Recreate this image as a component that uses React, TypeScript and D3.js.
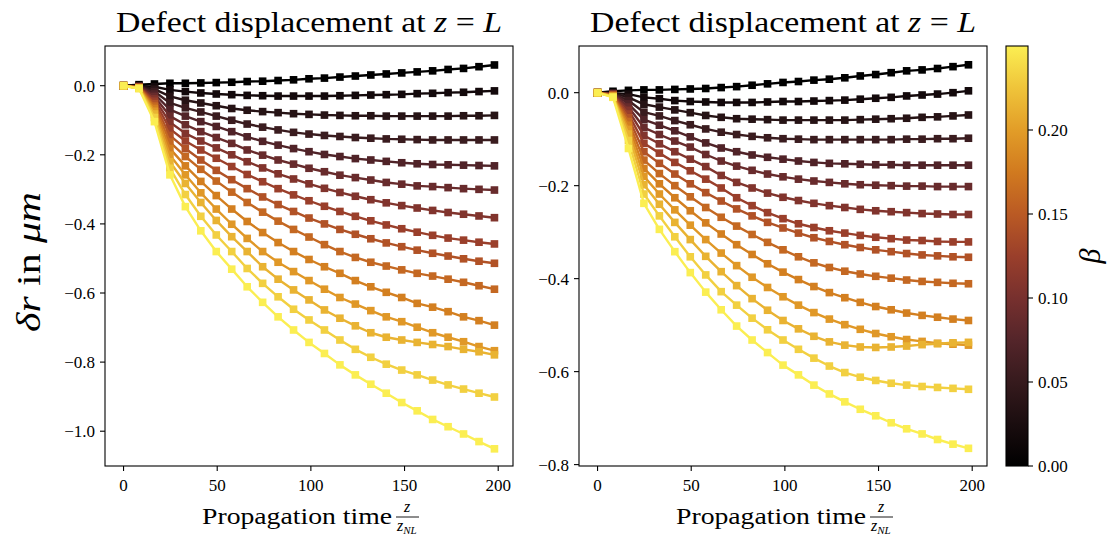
import React from "react";
import * as d3 from "d3";

// ---- data ----
const zSteps = [0, 8.25, 16.5, 24.75, 33, 41.25, 49.5, 57.75, 66, 74.25, 82.5, 90.75, 99, 107.25, 115.5, 123.75, 132, 140.25, 148.5, 156.75, 165, 173.25, 181.5, 189.75, 198];

const betas = [0, 0.0179, 0.0357, 0.0536, 0.0714, 0.0893, 0.1071, 0.125, 0.1429, 0.1607, 0.1786, 0.1964, 0.2143, 0.2321, 0.25];

const left0 = [0, 0.003, 0.005, 0.007, 0.007, 0.008, 0.009, 0.010, 0.012, 0.013, 0.015, 0.017, 0.020, 0.022, 0.025, 0.028, 0.031, 0.034, 0.037, 0.040, 0.043, 0.047, 0.050, 0.055, 0.060];
const left1 = [0, -0.001, -0.003, -0.012, -0.017, -0.021, -0.024, -0.026, -0.028, -0.029, -0.030, -0.030, -0.030, -0.030, -0.029, -0.028, -0.027, -0.026, -0.025, -0.023, -0.022, -0.020, -0.019, -0.017, -0.015];
const left2 = [0, -0.001, -0.010, -0.031, -0.042, -0.050, -0.058, -0.066, -0.071, -0.075, -0.078, -0.081, -0.083, -0.085, -0.086, -0.087, -0.087, -0.088, -0.088, -0.088, -0.088, -0.088, -0.087, -0.087, -0.086];
const left3 = [0, -0.002, -0.017, -0.050, -0.064, -0.076, -0.088, -0.100, -0.111, -0.120, -0.128, -0.135, -0.140, -0.144, -0.147, -0.150, -0.152, -0.154, -0.155, -0.156, -0.157, -0.157, -0.157, -0.157, -0.157];
const left4 = [0, -0.002, -0.024, -0.069, -0.088, -0.104, -0.118, -0.133, -0.148, -0.161, -0.172, -0.182, -0.191, -0.199, -0.205, -0.211, -0.215, -0.219, -0.223, -0.226, -0.228, -0.229, -0.230, -0.231, -0.232];
const left5 = [0, -0.003, -0.031, -0.088, -0.113, -0.133, -0.150, -0.167, -0.186, -0.201, -0.215, -0.227, -0.239, -0.249, -0.259, -0.266, -0.273, -0.280, -0.285, -0.290, -0.292, -0.295, -0.298, -0.300, -0.302];
const left6 = [0, -0.004, -0.038, -0.106, -0.138, -0.160, -0.180, -0.200, -0.220, -0.238, -0.255, -0.270, -0.284, -0.297, -0.309, -0.320, -0.330, -0.339, -0.347, -0.354, -0.361, -0.367, -0.372, -0.377, -0.382];
const left7 = [0, -0.004, -0.045, -0.125, -0.160, -0.186, -0.210, -0.234, -0.257, -0.278, -0.298, -0.316, -0.333, -0.349, -0.364, -0.378, -0.391, -0.403, -0.414, -0.424, -0.433, -0.441, -0.447, -0.453, -0.458];
const left8 = [0, -0.005, -0.052, -0.144, -0.182, -0.215, -0.245, -0.272, -0.298, -0.322, -0.344, -0.364, -0.383, -0.400, -0.416, -0.430, -0.443, -0.455, -0.466, -0.476, -0.485, -0.493, -0.501, -0.508, -0.514];
const left9 = [0, -0.005, -0.059, -0.163, -0.205, -0.242, -0.276, -0.308, -0.338, -0.366, -0.392, -0.416, -0.438, -0.460, -0.480, -0.497, -0.511, -0.522, -0.533, -0.543, -0.551, -0.560, -0.569, -0.579, -0.589];
const left10 = [0, -0.006, -0.066, -0.182, -0.232, -0.277, -0.318, -0.357, -0.393, -0.425, -0.454, -0.480, -0.503, -0.524, -0.543, -0.564, -0.582, -0.598, -0.613, -0.630, -0.641, -0.654, -0.669, -0.680, -0.693];
const left11 = [0, -0.007, -0.074, -0.201, -0.258, -0.310, -0.357, -0.401, -0.442, -0.480, -0.511, -0.538, -0.564, -0.589, -0.613, -0.632, -0.651, -0.669, -0.683, -0.699, -0.715, -0.728, -0.741, -0.755, -0.767];
const left12 = [0, -0.007, -0.082, -0.220, -0.283, -0.338, -0.390, -0.437, -0.480, -0.524, -0.560, -0.591, -0.620, -0.649, -0.673, -0.695, -0.715, -0.728, -0.736, -0.743, -0.749, -0.755, -0.763, -0.770, -0.779];
const left13 = [0, -0.008, -0.092, -0.239, -0.315, -0.378, -0.432, -0.480, -0.529, -0.572, -0.611, -0.647, -0.678, -0.707, -0.736, -0.763, -0.786, -0.806, -0.823, -0.837, -0.852, -0.866, -0.878, -0.890, -0.901];
const left14 = [0, -0.008, -0.104, -0.258, -0.350, -0.420, -0.480, -0.531, -0.582, -0.627, -0.669, -0.707, -0.743, -0.775, -0.808, -0.837, -0.864, -0.890, -0.917, -0.941, -0.966, -0.987, -1.008, -1.030, -1.051];

const right0 = [0, 0.003, 0.005, 0.006, 0.006, 0.007, 0.008, 0.009, 0.011, 0.013, 0.016, 0.019, 0.022, 0.024, 0.027, 0.029, 0.032, 0.036, 0.039, 0.043, 0.047, 0.049, 0.052, 0.056, 0.060];
const right1 = [0, -0.001, -0.003, -0.010, -0.013, -0.017, -0.019, -0.020, -0.021, -0.021, -0.021, -0.020, -0.019, -0.019, -0.018, -0.017, -0.016, -0.014, -0.012, -0.010, -0.007, -0.005, -0.003, 0.000, 0.004];
const right2 = [0, -0.001, -0.010, -0.025, -0.031, -0.037, -0.043, -0.049, -0.053, -0.056, -0.057, -0.058, -0.059, -0.059, -0.059, -0.059, -0.059, -0.058, -0.057, -0.056, -0.055, -0.053, -0.052, -0.050, -0.048];
const right3 = [0, -0.002, -0.017, -0.042, -0.050, -0.060, -0.069, -0.078, -0.085, -0.090, -0.094, -0.097, -0.099, -0.100, -0.101, -0.101, -0.101, -0.101, -0.101, -0.101, -0.100, -0.100, -0.099, -0.099, -0.098];
const right4 = [0, -0.002, -0.024, -0.058, -0.070, -0.082, -0.095, -0.108, -0.119, -0.127, -0.134, -0.139, -0.143, -0.147, -0.150, -0.152, -0.153, -0.154, -0.155, -0.155, -0.156, -0.156, -0.156, -0.156, -0.156];
const right5 = [0, -0.003, -0.031, -0.075, -0.090, -0.104, -0.117, -0.133, -0.147, -0.158, -0.167, -0.175, -0.181, -0.186, -0.190, -0.193, -0.196, -0.198, -0.199, -0.200, -0.201, -0.201, -0.202, -0.202, -0.202];
const right6 = [0, -0.004, -0.038, -0.092, -0.110, -0.127, -0.143, -0.159, -0.178, -0.193, -0.205, -0.216, -0.225, -0.232, -0.238, -0.243, -0.247, -0.251, -0.254, -0.256, -0.258, -0.260, -0.261, -0.262, -0.262];
const right7 = [0, -0.004, -0.046, -0.109, -0.130, -0.150, -0.168, -0.186, -0.205, -0.226, -0.243, -0.258, -0.271, -0.282, -0.290, -0.297, -0.302, -0.307, -0.311, -0.314, -0.317, -0.318, -0.320, -0.321, -0.321];
const right8 = [0, -0.005, -0.054, -0.127, -0.152, -0.175, -0.196, -0.215, -0.233, -0.250, -0.265, -0.279, -0.291, -0.302, -0.312, -0.320, -0.327, -0.333, -0.338, -0.342, -0.346, -0.349, -0.351, -0.353, -0.354];
const right9 = [0, -0.006, -0.062, -0.145, -0.174, -0.200, -0.224, -0.247, -0.268, -0.287, -0.305, -0.322, -0.338, -0.353, -0.366, -0.376, -0.384, -0.390, -0.395, -0.399, -0.403, -0.406, -0.408, -0.410, -0.411];
const right10 = [0, -0.007, -0.070, -0.163, -0.196, -0.226, -0.254, -0.280, -0.304, -0.327, -0.348, -0.368, -0.386, -0.402, -0.417, -0.430, -0.441, -0.451, -0.460, -0.467, -0.474, -0.479, -0.483, -0.487, -0.490];
const right11 = [0, -0.008, -0.079, -0.180, -0.218, -0.252, -0.285, -0.316, -0.345, -0.372, -0.397, -0.419, -0.439, -0.457, -0.473, -0.487, -0.499, -0.509, -0.518, -0.525, -0.531, -0.535, -0.539, -0.541, -0.543];
const right12 = [0, -0.008, -0.089, -0.198, -0.240, -0.279, -0.316, -0.352, -0.385, -0.415, -0.443, -0.468, -0.490, -0.508, -0.524, -0.536, -0.543, -0.547, -0.548, -0.547, -0.545, -0.542, -0.540, -0.538, -0.537];
const right13 = [0, -0.009, -0.103, -0.218, -0.265, -0.310, -0.353, -0.392, -0.428, -0.457, -0.485, -0.510, -0.532, -0.552, -0.571, -0.588, -0.602, -0.612, -0.619, -0.625, -0.629, -0.632, -0.634, -0.636, -0.638];
const right14 = [0, -0.010, -0.120, -0.238, -0.294, -0.342, -0.387, -0.429, -0.467, -0.502, -0.532, -0.559, -0.586, -0.607, -0.629, -0.648, -0.665, -0.681, -0.695, -0.710, -0.723, -0.734, -0.746, -0.756, -0.765];

const leftSeries = [left0, left1, left2, left3, left4, left5, left6, left7, left8, left9, left10, left11, left12, left13, left14];
const rightSeries = [right0, right1, right2, right3, right4, right5, right6, right7, right8, right9, right10, right11, right12, right13, right14];

const xTicks = [0, 50, 100, 150, 200];
const leftYTicks = [0, -0.2, -0.4, -0.6, -0.8, -1.0];
const rightYTicks = [0, -0.2, -0.4, -0.6, -0.8];
const cbarTicks = [0, 0.05, 0.1, 0.15, 0.2];

// axis limits
const xLimits = [-9.9, 207.9];
const leftYLimits = [-1.1007, 0.1149];
const rightYLimits = [-0.803, 0.1004];
const betaLimits = [0, 0.25];

// colormap stops
const cmapStops = [0, 0.1, 0.2, 0.3, 0.4, 0.5, 0.6, 0.7, 0.8, 0.9, 1];
const cmapColors = ["#000000", "#1a0d0f", "#361a1d", "#54252a", "#77302e", "#9a3f2b", "#ba5a24", "#d17a1f", "#e29d28", "#efc43a", "#fbee52"];

const cmap = d3.scaleLinear<string>().domain(cmapStops).range(cmapColors).interpolate(d3.interpolateRgb);
const betaScale = d3.scaleLinear().domain(betaLimits).range([0, 1]);

const FONT = "'Liberation Serif', 'DejaVu Serif', serif";
const TOP = 46;
const BOTTOM = 466;
const PANEL_W = 408;

const fmt1 = (v: number) => (v < 0 ? "\u2212" : "") + Math.abs(v).toFixed(1);
const fmt2 = (v: number) => (v < 0 ? "\u2212" : "") + Math.abs(v).toFixed(2);

function Panel({ x0, series, yLimits, yTicks }: { x0: number; series: number[][]; yLimits: number[]; yTicks: number[] }) {
  const xs = d3.scaleLinear().domain(xLimits).range([x0, x0 + PANEL_W]);
  const ys = d3.scaleLinear().domain(yLimits).range([BOTTOM, TOP]);
  const line = d3.line<number>().x((_, i) => xs(zSteps[i])).y((d) => ys(d));
  const cx = x0 + PANEL_W / 2;
  const ms = 7.6;
  return (
    <g>
      <defs>
        <clipPath id={`clip${x0}`}>
          <rect x={x0} y={TOP} width={PANEL_W} height={BOTTOM - TOP} />
        </clipPath>
      </defs>
      <g clipPath={`url(#clip${x0})`}>
        {series.map((s, k) => {
          const col = cmap(betaScale(betas[k]));
          return (
            <g key={k}>
              <path d={line(s) || ""} fill="none" stroke={col} strokeWidth={2.4} strokeLinejoin="round" />
              {s.map((v, i) => (
                <rect key={i} x={xs(zSteps[i]) - ms / 2} y={ys(v) - ms / 2} width={ms} height={ms} fill={col} />
              ))}
            </g>
          );
        })}
      </g>
      <rect x={x0} y={TOP} width={PANEL_W} height={BOTTOM - TOP} fill="none" stroke="#000" strokeWidth={1.1} />
      {xTicks.map((t) => (
        <g key={t}>
          <line x1={xs(t)} x2={xs(t)} y1={BOTTOM} y2={BOTTOM + 5} stroke="#000" strokeWidth={1.1} />
          <text x={xs(t)} y={BOTTOM + 25} textAnchor="middle" fontFamily={FONT} fontSize={17}>{String(t)}</text>
        </g>
      ))}
      {yTicks.map((t) => (
        <g key={t}>
          <line x1={x0 - 5} x2={x0} y1={ys(t)} y2={ys(t)} stroke="#000" strokeWidth={1.1} />
          <text x={x0 - 10} y={ys(t) + 6} textAnchor="end" fontFamily={FONT} fontSize={17}>{fmt1(t)}</text>
        </g>
      ))}
      <text x={cx} y={32} textAnchor="middle" fontFamily={FONT} fontSize={29} textLength={386} lengthAdjust="spacingAndGlyphs">
        Defect displacement at <tspan fontStyle="italic">z</tspan> = <tspan fontStyle="italic">L</tspan>
      </text>
      <text x={cx - 107} y={524} fontFamily={FONT} fontSize={24} textLength={190} lengthAdjust="spacingAndGlyphs">Propagation time</text>
      <text x={cx + 98} y={512} textAnchor="middle" fontFamily={FONT} fontSize={16} fontStyle="italic">z</text>
      <line x1={cx + 87} x2={cx + 110} y1={517} y2={517} stroke="#000" strokeWidth={0.9} />
      <text x={cx + 88} y={531} fontFamily={FONT} fontSize={16} fontStyle="italic">
        z<tspan fontSize={11} dy={3}>NL</tspan>
      </text>
    </g>
  );
}

export default function App() {
  const cbX = 1006;
  const cbW = 22;
  const cbScale = d3.scaleLinear().domain(betaLimits).range([BOTTOM, TOP]);
  return (
    <svg width={1111} height={540} style={{ position: "absolute", left: 0, top: 0, background: "#fff" }}>
      <rect x={0} y={0} width={1111} height={540} fill="#fff" />
      <Panel x0={105} series={leftSeries} yLimits={leftYLimits} yTicks={leftYTicks} />
      <Panel x0={579} series={rightSeries} yLimits={rightYLimits} yTicks={rightYTicks} />
      <text transform="translate(40,262) rotate(-90)" textAnchor="middle" fontFamily={FONT} fontSize={34} textLength={140} lengthAdjust="spacingAndGlyphs">
        <tspan fontStyle="italic">δr</tspan> in <tspan fontStyle="italic">μm</tspan>
      </text>
      <defs>
        <linearGradient id="cbarGrad" x1="0" y1="1" x2="0" y2="0">
          {cmapStops.map((s, i) => (
            <stop key={i} offset={`${s * 100}%`} stopColor={cmapColors[i]} />
          ))}
        </linearGradient>
      </defs>
      <rect x={cbX} y={TOP} width={cbW} height={BOTTOM - TOP} fill="url(#cbarGrad)" stroke="#000" strokeWidth={1.1} />
      {cbarTicks.map((t) => (
        <g key={t}>
          <line x1={cbX + cbW} x2={cbX + cbW + 5} y1={cbScale(t)} y2={cbScale(t)} stroke="#000" strokeWidth={1.1} />
          <text x={cbX + cbW + 10} y={cbScale(t) + 6} fontFamily={FONT} fontSize={17}>{fmt2(t)}</text>
        </g>
      ))}
      <text transform="translate(1100,256) rotate(-90)" textAnchor="middle" fontFamily={FONT} fontSize={30} fontStyle="italic">β</text>
    </svg>
  );
}
